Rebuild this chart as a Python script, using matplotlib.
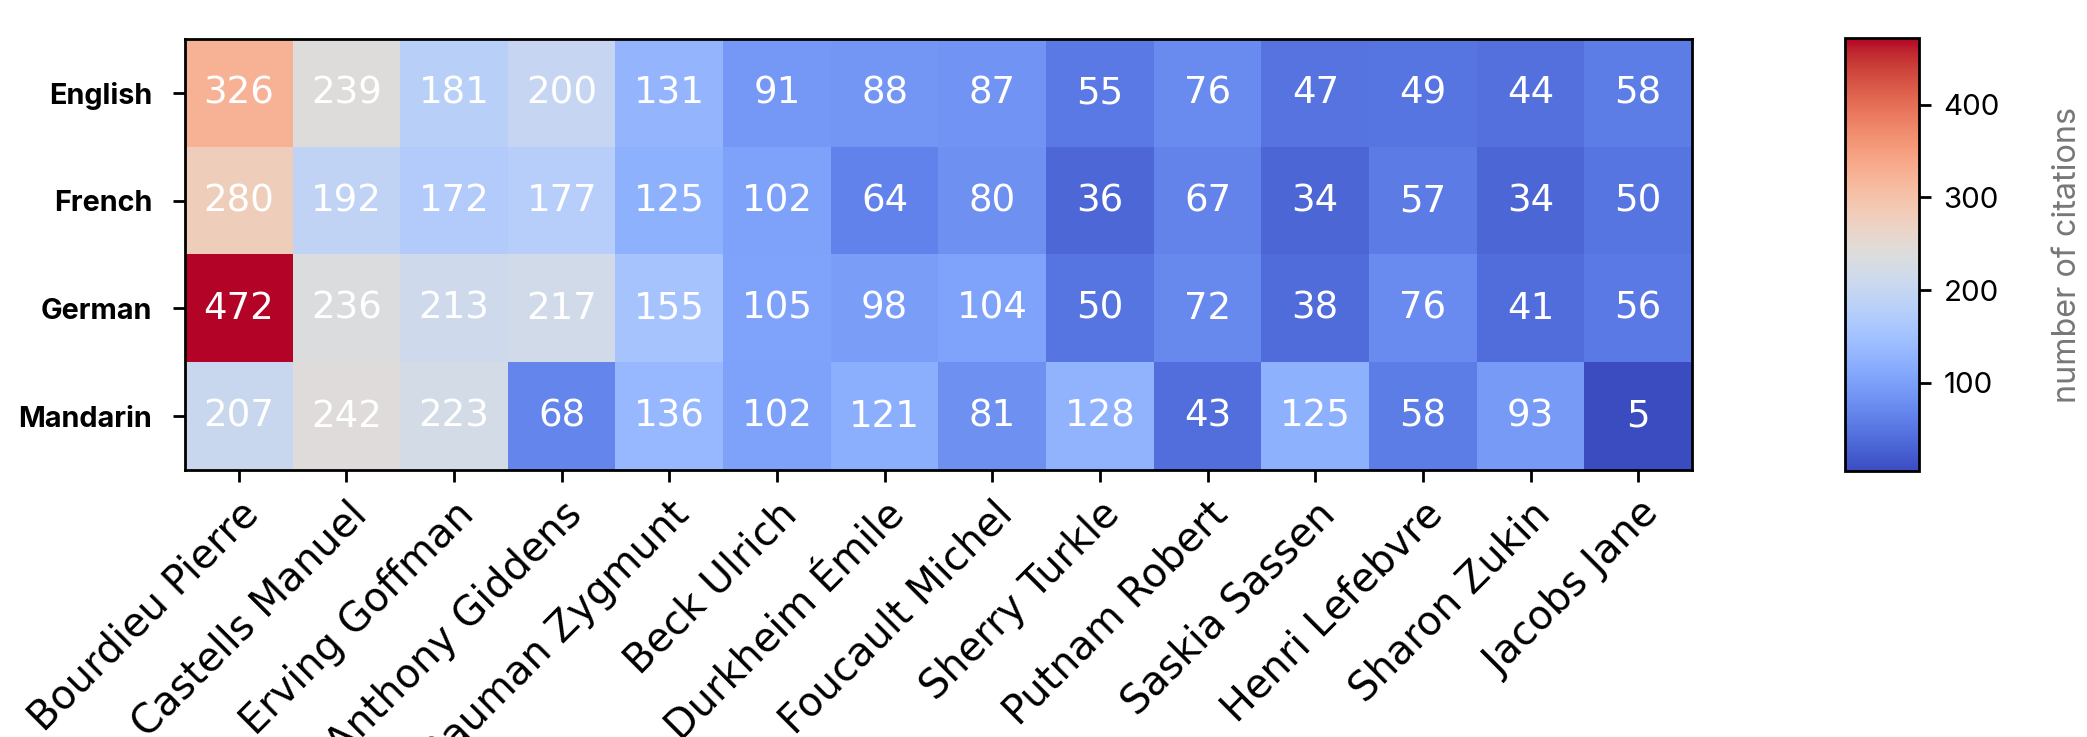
import numpy as np
import matplotlib
matplotlib.use("Agg")
import matplotlib.pyplot as plt

# données
languages = ["English", "French", "German", "Mandarin"]
authors = ["Bourdieu Pierre", "Castells Manuel", "Erving Goffman", "Anthony Giddens",
           "Bauman Zygmunt", "Beck Ulrich", "Durkheim Émile", "Foucault Michel",
           "Sherry Turkle", "Putnam Robert", "Saskia Sassen", "Henri Lefebvre",
           "Sharon Zukin", "Jacobs Jane"]

english = [326, 239, 181, 200, 131, 91, 88, 87, 55, 76, 47, 49, 44, 58]
french = [280, 192, 172, 177, 125, 102, 64, 80, 36, 67, 34, 57, 34, 50]
german = [472, 236, 213, 217, 155, 105, 98, 104, 50, 72, 38, 76, 41, 56]
mandarin = [207, 242, 223, 68, 136, 102, 121, 81, 128, 43, 125, 58, 93, 5]

citations = np.array([english, french, german, mandarin])

W, H, DPI = 2087, 737, 250
fig = plt.figure(figsize=(W / DPI, H / DPI), dpi=DPI)
ax = fig.add_axes([185 / W, 1 - 470 / H, 1507 / W, 431 / H])
cax = fig.add_axes([1845 / W, 1 - 471 / H, 74 / W, 433 / H])

im = ax.imshow(citations, cmap="coolwarm", aspect="auto")

ax.set_xticks(np.arange(len(authors)))
ax.set_yticks(np.arange(len(languages)))
ax.set_xticklabels(authors, fontsize=11.5, family="DejaVu Sans")
ax.set_yticklabels(languages, fontsize=8.3, fontweight="bold", family="Inter")
ax.tick_params(axis="y", pad=6)
plt.setp(ax.get_xticklabels(), rotation=45, ha="right", rotation_mode="anchor")

# valeurs dans les cases
for i in range(len(languages)):
    for j in range(len(authors)):
        ax.text(j, i, citations[i, j], ha="center", va="center",
                color="w", fontsize=10.7, family="DejaVu Sans")

cbar = fig.colorbar(im, cax=cax)
cbar.set_ticks([100, 200, 300, 400])
for t in cbar.ax.get_yticklabels():
    t.set_family("Inter")
    t.set_fontsize(8.5)
cbar.set_label("number of citations", fontsize=9.3, color="#777777",
               family="Inter", labelpad=15)

fig.savefig("out.png", dpi=DPI)
